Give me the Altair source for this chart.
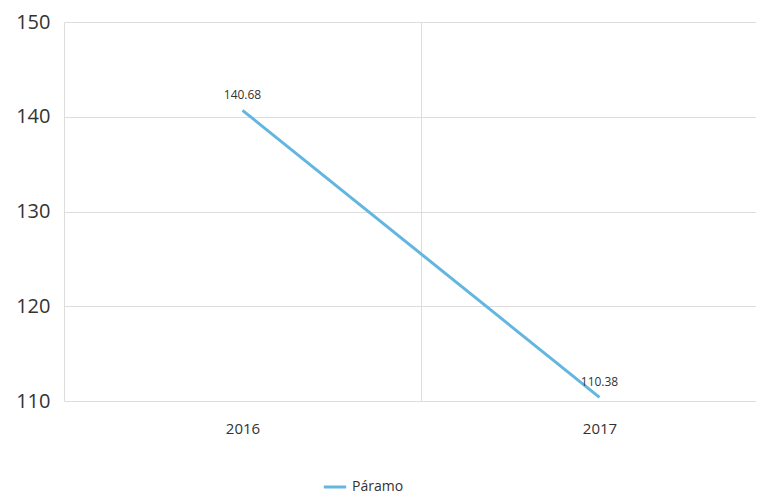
import altair as alt
import pandas as pd

years = ["2016", "2017"]
values = [140.68, 110.38]
series = ["Páramo", "Páramo"]

df = pd.DataFrame({"year": years, "value": values, "series": series})

FONT = "Open Sans"

base = alt.Chart(df).encode(
    x=alt.X("year:N", scale=alt.Scale(type="band", paddingInner=0, paddingOuter=0, range=[0, 714]),
            axis=alt.Axis(title=None, labelAngle=0, ticks=False, domain=False, grid=True,
                          tickBand="extent", gridColor="#dddddd", labelFontSize=15,
                          labelColor="#333333", labelFont=FONT, labelPadding=20)),
    y=alt.Y("value:Q", scale=alt.Scale(domain=[110, 150], nice=False, zero=False),
            axis=alt.Axis(title=None, values=[110, 120, 130, 140, 150], ticks=False, domain=False,
                          gridColor="#dddddd", labelFontSize=20, labelColor="#333333",
                          labelFont=FONT, labelPadding=14)),
)

line = base.mark_line(strokeWidth=3).encode(
    color=alt.Color("series:N", scale=alt.Scale(range=["#62b6df"]),
                    legend=alt.Legend(title=None, orient="none", legendX=258, legendY=452,
                                      symbolType="stroke", symbolStrokeWidth=3, symbolSize=500,
                                      labelFontSize=14, labelFont=FONT, labelColor="#333333"))
)

labels = base.mark_text(dy=-15, fontSize=12, font=FONT, color="#333333").encode(
    text=alt.Text("value:Q", format=".2f")
)

chart = (line + labels).properties(
    width=692, height=379,
    autosize=alt.AutoSizeParams(type="none"),
    padding={"left": 56, "top": 14, "right": 0, "bottom": 94},
).configure_view(stroke=None)

chart.save("out.html", embed_options={"renderer": "svg", "actions": False})
